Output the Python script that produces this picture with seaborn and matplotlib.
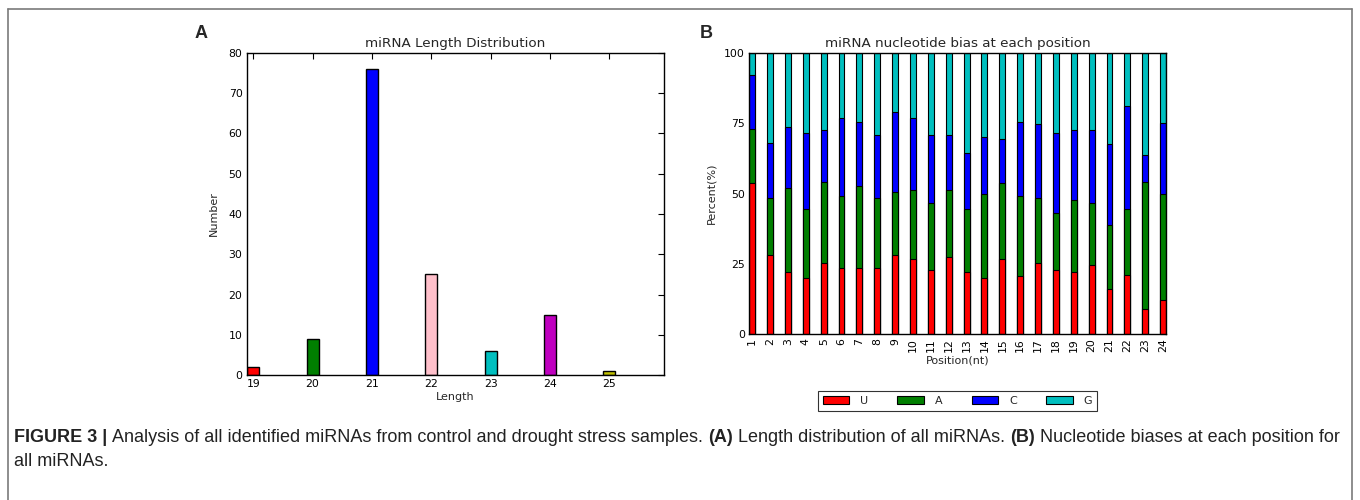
import numpy as np
import pandas as pd
import matplotlib
matplotlib.use("Agg")
import matplotlib.pyplot as plt
from matplotlib.patches import Patch
from matplotlib.lines import Line2D
import seaborn as sns

# ---------------- data ----------------
lengths = [19, 20, 21, 22, 23, 24, 25]
counts = [2, 9, 76, 25, 6, 15, 1]
length_colors = ["#ff0000", "#007f00", "#0000ff", "#ffc0cb", "#00bfbf", "#bf00bf", "#bfbf00"]

positions = list(range(1, 25))
pct_U = [53.6, 28.0, 22.2, 20.1, 25.2, 23.6, 23.6, 23.6, 28.0, 26.6, 22.8, 27.3,
         22.2, 20.0, 26.7, 20.7, 25.2, 22.8, 22.2, 24.7, 16.1, 20.9, 8.9, 12.2]
pct_A = [19.3, 20.3, 29.6, 24.4, 29.0, 25.4, 29.2, 24.7, 22.4, 24.5, 23.9, 23.9,
         22.3, 29.8, 26.9, 28.4, 23.1, 20.4, 25.5, 22.0, 22.7, 23.6, 45.3, 37.6]
pct_C = [19.2, 19.5, 21.9, 27.1, 18.3, 27.9, 22.7, 22.6, 28.7, 25.8, 24.2, 19.7,
         19.8, 20.4, 15.9, 26.4, 26.3, 28.4, 24.7, 26.0, 28.7, 36.6, 9.4, 25.2]
pct_G = [7.9, 32.2, 26.3, 28.4, 27.5, 23.1, 24.5, 29.1, 20.9, 23.1, 29.1, 29.1,
         35.7, 29.8, 30.5, 24.5, 25.4, 28.4, 27.6, 27.3, 32.5, 18.9, 36.4, 25.0]
nucleotides = ["U", "A", "C", "G"]
nuc_colors = ["#ff0000", "#007f00", "#0000ff", "#00bfbf"]

caption_line1 = [("FIGURE 3 |", "bold"),
                 ("Analysis of all identified miRNAs from control and drought stress samples.", "normal"),
                 ("(A)", "bold"),
                 ("Length distribution of all miRNAs.", "normal"),
                 ("(B)", "bold"),
                 ("Nucleotide biases at each position for", "normal")]
caption_line2 = "all miRNAs."

# ---------------- figure ----------------
sns.set_theme(style="white")
plt.rcParams["font.family"] = ["DejaVu Sans"]
W, H = 1360, 500
fig = plt.figure(figsize=(W / 100, H / 100), dpi=100)

def fx(px):
    return px / W

def fy(py):
    return 1 - py / H

# frame lines
frame_col = "#7a7a7a"
fig.add_artist(Line2D([fx(7.5), fx(7.5)], [fy(9), 0], color=frame_col, lw=1.2))
fig.add_artist(Line2D([fx(7.5), fx(1351.5)], [fy(9), fy(9)], color=frame_col, lw=1.2))
fig.add_artist(Line2D([fx(1351.5), fx(1351.5)], [fy(9), 0], color=frame_col, lw=1.2))

tick_fs = 7.8
lab_fs = 8
title_fs = 9.7

def style_axes(ax):
    ax.tick_params(direction="in", top=True, right=True, length=4, width=0.8,
                   labelsize=tick_fs, colors="black", pad=3)
    for s in ax.spines.values():
        s.set_color("black")
        s.set_linewidth(1.0)

# ---------- Panel A ----------
axA = fig.add_axes([fx(246.7), fy(375.3), fx(664) - fx(246.7), fy(52.7) - fy(375.3)])
dfA = pd.DataFrame({"Length": lengths, "Number": counts})
sns.barplot(data=dfA, x="Length", y="Number", hue="Length", palette=length_colors,
            native_scale=True, width=0.2, dodge=False, legend=False,
            edgecolor="black", linewidth=1.0, saturation=1, ax=axA)
axA.set_xlim(18.89, 25.92)
axA.set_ylim(0, 80)
axA.set_xticks(lengths)
axA.set_xticklabels([str(v) for v in lengths])
axA.set_yticks(range(0, 81, 10))
axA.set_xlabel("Length", fontsize=lab_fs, labelpad=2)
axA.set_ylabel("Number", fontsize=lab_fs, labelpad=7)
axA.set_title("miRNA Length Distribution", fontsize=title_fs, pad=4)
style_axes(axA)

# ---------- Panel B ----------
axB = fig.add_axes([fx(749.3), fy(334.3), fx(1166) - fx(749.3), fy(52.7) - fy(334.3)])
stack = np.array([pct_U, pct_A, pct_C, pct_G])
cum = np.cumsum(stack, axis=0)
for i in range(3, -1, -1):
    dfB = pd.DataFrame({"Position": positions, "Percent": cum[i]})
    sns.barplot(data=dfB, x="Position", y="Percent", color=nuc_colors[i],
                native_scale=True, width=0.33, edgecolor="black", linewidth=0.8,
                saturation=1, ax=axB)
axB.set_xlim(1 - 0.165, 24 + 0.165)
axB.set_ylim(0, 100)
axB.set_yticks([0, 25, 50, 75, 100])
axB.set_xticks(positions)
axB.set_xticklabels([str(p) for p in positions], rotation=90)
axB.set_xlabel("Position(nt)", fontsize=lab_fs, labelpad=2)
axB.set_ylabel("Percent(%)", fontsize=lab_fs, labelpad=6)
axB.set_title("miRNA nucleotide bias at each position", fontsize=title_fs, pad=4)
style_axes(axB)

handles = [Patch(facecolor=c, edgecolor="black", linewidth=0.8) for c in nuc_colors]
leg = fig.legend(handles, nucleotides, loc="center", bbox_to_anchor=(fx(957.5), fy(401)),
                 ncol=4, fontsize=lab_fs, frameon=True, fancybox=False,
                 handlelength=2.4, handleheight=0.7, handletextpad=1.0,
                 columnspacing=2.6, borderpad=0.45)
leg.get_frame().set_edgecolor("black")
leg.get_frame().set_linewidth(0.8)

# panel letters
fig.text(fx(201), fy(33), "A", fontsize=13, fontweight="bold", ha="center", va="center",
         family=["Liberation Sans", "DejaVu Sans"])
fig.text(fx(706), fy(33), "B", fontsize=13, fontweight="bold", ha="center", va="center",
         family=["Liberation Sans", "DejaVu Sans"])

# ---------- caption ----------
cap_family = ["Liberation Sans", "DejaVu Sans"]
renderer = fig.canvas.get_renderer()

def text_width(s, weight, fs):
    t = fig.text(0, 0, s, fontsize=fs, fontweight=weight, family=cap_family)
    w = t.get_window_extent(renderer).width
    t.remove()
    return w

def line_width(fs):
    sp = text_width("a a", "normal", fs) - text_width("aa", "normal", fs)
    total = sum(text_width(s, w, fs) for s, w in caption_line1) + sp * (len(caption_line1) - 1)
    return total, sp

base_fs = 10.0
w0, _ = line_width(base_fs)
cap_fs = base_fs * (1338 - 14) / w0
_, space_w = line_width(cap_fs)

x = 14
for s, wgt in caption_line1:
    fig.text(fx(x), fy(437), s, fontsize=cap_fs, fontweight=wgt, family=cap_family,
             ha="left", va="center", color="#222222")
    x += text_width(s, wgt, cap_fs) + space_w
fig.text(fx(14), fy(462), caption_line2, fontsize=cap_fs, family=cap_family,
         ha="left", va="center", color="#222222")

fig.savefig("out.png", dpi=100)
